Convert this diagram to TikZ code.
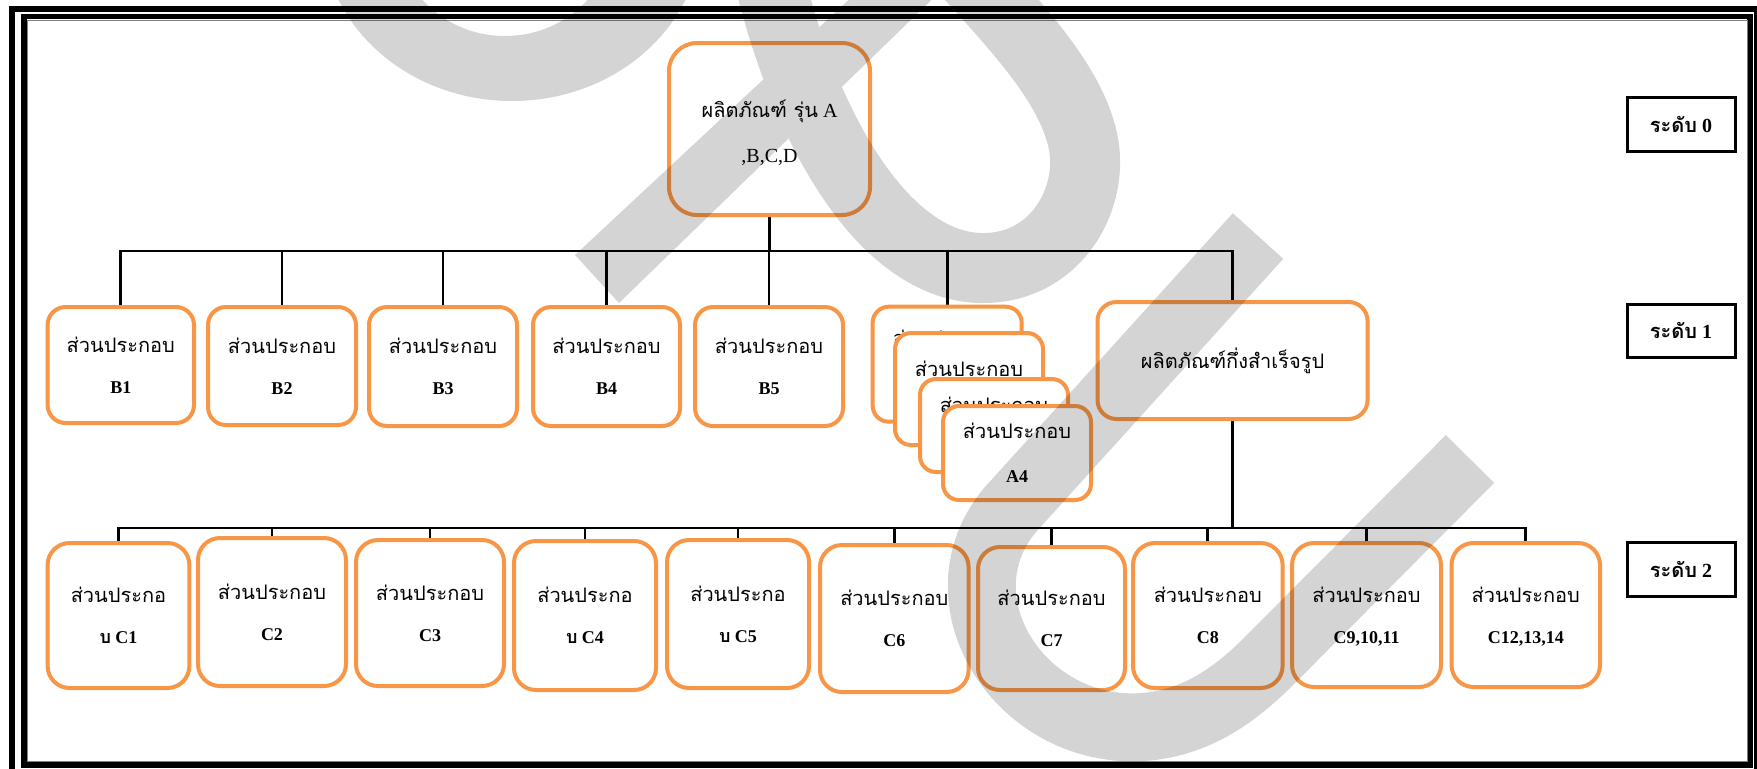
\documentclass[tikz,border=0pt]{standalone}
\usepackage{fontspec}
\setmainfont{Liberation Serif}
\newfontfamily\thai[Script=Thai]{Loma}
\usetikzlibrary{fit,calc}
\definecolor{boxorange}{HTML}{F79646}
\pgfdeclarelayer{bg}
\pgfdeclarelayer{fg}
\pgfsetlayers{bg,main,fg}

\tikzset{
  obox/.style={draw=boxorange, line width=2pt, fill=white, inner sep=0pt},
  lvbox/.style={draw=black, line width=1.5pt, fill=white, inner sep=0pt},
  conn/.style={draw=black, line width=1.4pt},
  th/.style={anchor=base, inner sep=0pt, font=\thai\fontsize{10pt}{12pt}\selectfont},
  lt/.style={anchor=base, inner sep=0pt, font=\bfseries\fontsize{9pt}{11pt}\selectfont},
  rt/.style={anchor=base, inner sep=0pt, font=\fontsize{10pt}{12pt}\selectfont},
  lvt/.style={anchor=base, inner sep=0pt, font=\bfseries\fontsize{10pt}{12pt}\selectfont},
  wmark/.style={black},
}

% part box: name, x1, y1, x2, y2, corner radius, first line, second line
\newcommand\partbox[8]{%
  \node[obox, rounded corners=#6, fit={(#2,#3) (#4,#5)}] (#1) {};
  \node[th] (#1-l1) at ($(#1.center)+(0,-13)$) {#7};
  \node[lt] (#1-l2) at ($(#1.center)+(0,28)$) {#8};
}

\begin{document}
\begin{tikzpicture}[x=0.5pt, y=-0.5pt]
\useasboundingbox (0,0) rectangle (1757,768);

% double page frame
\draw[line width=3pt] (12,8.5) rectangle (1757,773);
\draw[line width=2.8pt] (24,16.5) rectangle (1750,765);
\draw[gray, line width=0.4pt] (27.5,20) rectangle (1747,761.5);

% level 0
\node[obox, rounded corners=14pt, fit={(669,43) (870,215)}] (root) {};
\node[rt] (root-l1) at ($(root.center)+(0,-12)$) {{\thai ผลิตภัณฑ์ รุ่น} A};
\node[rt] (root-l2) at ($(root.center)+(0,33)$) {,B,C,D};

% level 1
\partbox{b1}{47.6}{307}{194}{423}{9pt}{ส่วนประกอบ}{B1}
\partbox{b2}{208}{307}{356}{425}{9pt}{ส่วนประกอบ}{B2}
\partbox{b3}{369}{307}{517}{426}{9pt}{ส่วนประกอบ}{B3}
\partbox{b4}{533}{307}{680}{426}{9pt}{ส่วนประกอบ}{B4}
\partbox{b5}{695}{307}{843}{426}{9pt}{ส่วนประกอบ}{B5}

% stacked A parts, each card covering the one behind it
\node[obox, rounded corners=8pt, fit={(872.7,306.7) (1021.7,421.7)}] (s1) {};
\node[th] (s1-l1) at ($(s1.center)+(0,-19)$) {ส่วนประกอบ};
\node[obox, rounded corners=8pt, fit={(895,333) (1043,445)}] (s2) {};
\node[th] (s2-l1) at ($(s2.center)+(0,-13)$) {ส่วนประกอบ};
\node[obox, rounded corners=8pt, fit={(920,379) (1068,472)}] (s3) {};
\node[th] (s3-l1) at ($(s3.center)+(0,-13)$) {ส่วนประกอบ};
\node[obox, rounded corners=8pt, fit={(943,406) (1091,500)}] (s4) {};
\node[th] (s4-l1) at ($(s4.center)+(0,-15)$) {ส่วนประกอบ};
\node[lt] (s4-l2) at ($(s4.center)+(0,29)$) {A4};

\node[obox, rounded corners=9.5pt, fit={(1097.5,302) (1367.6,419)}] (semi) {};
\node[th] (semi-l1) at ($(semi.center)+(0,8)$) {ผลิตภัณฑ์กึ่งสำเร็จรูป};

% level 2
\partbox{c1}{47.6}{543}{189.4}{688}{11pt}{ส่วนประกอ}{{\thai บ} C1}
\partbox{c2}{198}{538}{346}{686}{11pt}{ส่วนประกอบ}{C2}
\partbox{c3}{356}{540}{504}{686}{11pt}{ส่วนประกอบ}{C3}
\partbox{c4}{514}{541}{656}{690}{11pt}{ส่วนประกอ}{{\thai บ} C4}
\partbox{c5}{667}{540}{809}{688}{11pt}{ส่วนประกอ}{{\thai บ} C5}
\partbox{c6}{820}{545}{968.6}{692}{11pt}{ส่วนประกอบ}{C6}
\partbox{c7}{978}{547}{1125}{690}{11pt}{ส่วนประกอบ}{C7}
\partbox{c8}{1133}{543}{1282.6}{688}{11pt}{ส่วนประกอบ}{C8}
\partbox{c9}{1292}{543}{1441}{687}{11pt}{ส่วนประกอบ}{C9,10,11}
\partbox{c12}{1451.5}{543}{1600}{687}{11pt}{ส่วนประกอบ}{C12,13,14}

% level tags
\node[lvbox, fit={(1627,97) (1735,151)}] (lv0) {};
\node[lvt] (lv0-t) at ($(lv0.center)+(0,8)$) {{\thai ระดับ} 0};
\node[lvbox, fit={(1627,304) (1735,357)}] (lv1) {};
\node[lvt] (lv1-t) at ($(lv1.center)+(0,8)$) {{\thai ระดับ} 1};
\node[lvbox, fit={(1627,542) (1735,596)}] (lv2) {};
\node[lvt] (lv2-t) at ($(lv2.center)+(0,8)$) {{\thai ระดับ} 2};

% tree connectors, kept behind the boxes
\coordinate (bus1) at (0,251);
\coordinate (bus2) at (0,528);
\begin{pgfonlayer}{bg}
  \fill[white] (0,0) rectangle (1757,768);
  \draw[conn] (root.south) -- (root.south |- bus1);
  \draw[conn] (b1.north) |- (semi.north |- bus1) -- (semi.north);
  \foreach \n in {b2,b3,b4,b5,s1}
    \draw[conn] (\n.north) -- (\n.north |- bus1);
  \draw[conn] (semi.south) -- (semi.south |- bus2);
  \draw[conn] (c1.north) |- (c12.north |- bus2) -- (c12.north);
  \foreach \n in {c2,c3,c4,c5,c6,c7,c8,c9}
    \draw[conn] (\n.north) -- (\n.north |- bus2);
\end{pgfonlayer}

% grey mark laid over the whole sheet
\begin{pgfonlayer}{fg}
\begin{scope}[transparency group, opacity=0.17]
  \clip (0,0) rectangle (1757,768);
  % bowl at the top left
  \fill[wmark, even odd rule] (512,-70) ellipse [x radius=95pt, y radius=85.5pt]
                              (505,-70) ellipse [x radius=55pt, y radius=53pt];
  % rising bar
  \fill[wmark] (575,255) -- (870,-20) -- (952,-20) -- (619,303) -- cycle;
  % loop to the right of the top box
  \draw[wmark, line width=35pt] (765,-40)
     .. controls (800,120) and (880,265) .. (980,268)
     .. controls (1060,270) and (1100,190) .. (1080,130)
     .. controls (1065,80) and (1020,30) .. (965,-30);
  % large hook at the bottom right
  \draw[wmark, line width=34pt] (1258,236) -- (1010,510)
     .. controls (935,600) and (1020,735) .. (1143,727)
     .. controls (1200,723) and (1240,690) .. (1270,660) -- (1470,459);
\end{scope}
\end{pgfonlayer}
\end{tikzpicture}
\end{document}
